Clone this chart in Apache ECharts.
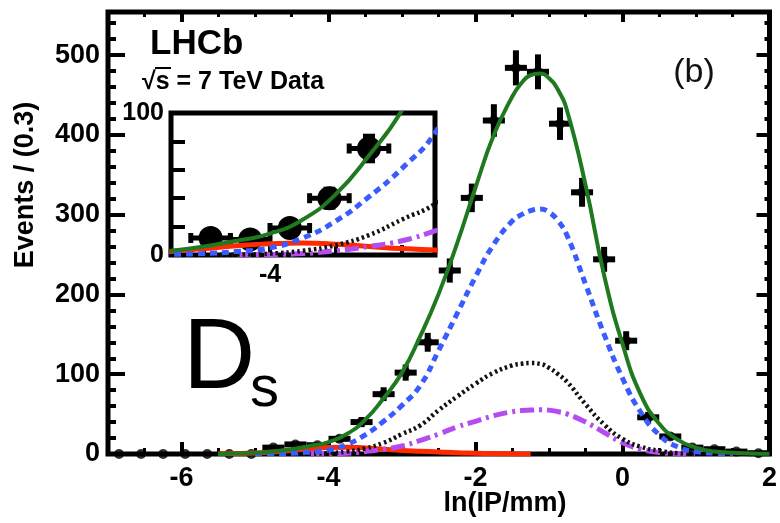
<!DOCTYPE html>
<html>
<head>
<meta charset="utf-8">
<script src="https://cdn.jsdelivr.net/npm/echarts@6/dist/echarts.min.js"></script>
<style>html,body{margin:0;padding:0;background:#fff}#chart{width:780px;height:523px}</style>
</head>
<body>
<div id="chart"></div>
<script>
// ---- data ----
const binCenters = [-6.85,-6.55,-6.25,-5.95,-5.65,-5.35,-5.05,-4.75,-4.45,-4.15,-3.85,-3.55,-3.25,-2.95,-2.65,-2.35,-2.05,-1.75,-1.45,-1.15,-0.85,-0.55,-0.25,0.05,0.35,0.65,0.95,1.25,1.55,1.85];
const eventCounts = [0,0,0,0,0,0,0,8,12,11,19,40,75,102,140,230,321,418,484,479,414,328,244,142,46,22,8,6,3,1];

const curveX      = [-5.5,-5.25,-5,-4.75,-4.5,-4.25,-4,-3.75,-3.5,-3.25,-3,-2.75,-2.5,-2.25,-2,-1.75,-1.5,-1.375,-1.25,-1.125,-1,-0.875,-0.75,-0.5,-0.25,0,0.25,0.5,0.75,1,1.25,1.5,1.75,2];
const totalFit    = [0,0.5,1.5,3,6,10,15,25,43,70,102,148,201,264,334,400,448,465,475,477,471,456,429,336,224,138,74,38,18,8,3,1.5,0.5,0.2];
const promptFit   = [null,null,0,0.5,1,2.5,5,12,24,41,61,86,130,176,222,263,292,300,305,307,303,292,273,212,150,95,52,24,9,3,1,0,null,null];
const dottedFit   = [null,null,null,null,0,0.3,1,3,7,14,25,36,55,72,88,102,111,113,114,113,108,100,90,62,37,19,9,4,1,0,null,null,null,null];
const dashDotFit  = [null,null,null,null,null,0,0.3,1,3,6,10,17,25,34,41,48,53,54.5,55,55.5,55,53,50,40,27,14,6,2,0.5,0,null,null,null,null];
const redFit      = [0.2,0.5,1.2,2.5,4.5,6.5,8,8.5,7.5,6,4.5,3.5,2.5,1.5,1,0.5,0.2,0.1,0,null,null,null,null,null,null,null,null,null,null,null,null,null,null,null];

const xMajorTicks = [-6,-4,-2,0,2];
const yLabelValues = [0,100,200,300,400,500];
const insetXMajor = [-4];
const insetXMinor = [-4.5,-3.5,-3];
const insetYLabels = [0,100];

// ---- ranges ----
const X_MIN = -7, X_MAX = 2, Y_MAX = 554;
const IN_XMIN = -4.75, IN_XMAX = -2.75, IN_YMAX = 100;
const HALF_BIN = 0.15;

const FONT = 'Liberation Sans, Arial, Helvetica, sans-serif';
const BLACK = '#000';

function pairs(xs, ys) {
  const out = [];
  for (let i = 0; i < xs.length; i++) if (ys[i] !== null) out.push([xs[i], ys[i]]);
  return out;
}
const points = binCenters.map((x, i) => [x, eventCounts[i]]);

function mainErr(params, api) {
  const x = api.value(0), y = api.value(1);
  if (!(y > 0)) return null;
  const e = Math.sqrt(y);
  const l = api.coord([x - HALF_BIN, y]), r = api.coord([x + HALF_BIN, y]);
  const t = api.coord([x, y + e]), b = api.coord([x, y - e]);
  const st = {stroke: BLACK, lineWidth: 6};
  return {type: 'group', children: [
    {type: 'line', shape: {x1: l[0], y1: l[1], x2: r[0], y2: r[1]}, style: st},
    {type: 'line', shape: {x1: t[0], y1: t[1], x2: b[0], y2: b[1]}, style: st}
  ]};
}
function insetPoint(params, api) {
  const x = api.value(0), y = api.value(1);
  if (!(x > IN_XMIN && x < IN_XMAX && y >= 0 && y <= IN_YMAX)) return null;
  const e = Math.sqrt(y);
  const c = api.coord([x, y]);
  const l = api.coord([x - HALF_BIN, y]), r = api.coord([x + HALF_BIN, y]);
  const t = api.coord([x, y + e]), b = api.coord([x, y - e]);
  const st = {stroke: BLACK, lineWidth: 5};
  return {type: 'group', children: [
    {type: 'line', shape: {x1: l[0], y1: l[1], x2: r[0], y2: r[1]}, style: st},
    {type: 'line', shape: {x1: t[0], y1: t[1], x2: b[0], y2: b[1]}, style: st},
    {type: 'line', shape: {x1: l[0], y1: l[1] - 5, x2: l[0], y2: l[1] + 5}, style: st},
    {type: 'line', shape: {x1: r[0], y1: r[1] - 5, x2: r[0], y2: r[1] + 5}, style: st},
    {type: 'line', shape: {x1: t[0] - 6, y1: t[1], x2: t[0] + 6, y2: t[1]}, style: st},
    {type: 'line', shape: {x1: b[0] - 6, y1: b[1], x2: b[0] + 6, y2: b[1]}, style: st},
    {type: 'circle', shape: {cx: c[0], cy: c[1], r: 12}, style: {fill: BLACK}}
  ]};
}

const curveDefs = [
  {name: 'red',     data: redFit,     color: '#ff2a00', width: 5, type: 'solid'},
  {name: 'dashdot', data: dashDotFit, color: '#b44cf0', width: 5, type: [14, 5, 3, 5]},
  {name: 'dotted',  data: dottedFit,  color: '#111111', width: 4.5, type: [2.5, 3]},
  {name: 'prompt',  data: promptFit,  color: '#3a5cff', width: 5, type: [7, 5]},
  {name: 'total',   data: totalFit,   color: '#1f7a1f', width: 4, type: 'solid'}
];
function curveSeries(def, xi, yi, z) {
  return {
    type: 'line', xAxisIndex: xi, yAxisIndex: yi, z: z,
    data: pairs(curveX, def.data), showSymbol: false, smooth: 0.5,
    lineStyle: {color: def.color, width: def.width, type: def.type, cap: 'butt', join: 'round'},
    silent: true, clip: true
  };
}

const noLine = {show: false, onZero: false};
const noSplit = {show: false};
function tick(len, w, extra) { return Object.assign({inside: true, length: len, lineStyle: {color: BLACK, width: w}}, extra || {}); }
const labelStyle = (size) => ({fontFamily: FONT, fontWeight: 'bold', fontSize: size, color: BLACK});

const option = {
  animation: false,
  backgroundColor: '#fff',
  grid: [
    {left: 108, right: 10, top: 12, bottom: 69, show: true, borderColor: BLACK, borderWidth: 5, backgroundColor: 'rgba(0,0,0,0)'},
    {left: 171, top: 113, width: 264, height: 142, show: true, borderColor: BLACK, borderWidth: 5, backgroundColor: '#fff'}
  ],
  xAxis: [
    {type: 'value', gridIndex: 0, position: 'bottom', min: X_MIN, max: X_MAX, axisLine: noLine, splitLine: noSplit,
     axisTick: tick(12, 4, {customValues: xMajorTicks}),
     axisLabel: Object.assign({customValues: xMajorTicks, margin: 11}, labelStyle(27))},
    {type: 'value', gridIndex: 0, position: 'bottom', min: X_MIN, max: X_MAX, interval: 0.5, axisLine: noLine, splitLine: noSplit,
     axisTick: tick(6, 3), axisLabel: {show: false}},
    {type: 'value', gridIndex: 0, position: 'top', min: X_MIN, max: X_MAX, axisLine: noLine, splitLine: noSplit,
     axisTick: tick(10, 4, {customValues: xMajorTicks}), axisLabel: {show: false}},
    {type: 'value', gridIndex: 0, position: 'top', min: X_MIN, max: X_MAX, interval: 0.5, axisLine: noLine, splitLine: noSplit,
     axisTick: tick(5, 3), axisLabel: {show: false}},
    {type: 'value', gridIndex: 1, position: 'bottom', min: IN_XMIN, max: IN_XMAX, axisLine: noLine, splitLine: noSplit,
     axisTick: tick(16, 4, {customValues: insetXMajor}),
     axisLabel: Object.assign({customValues: insetXMajor, margin: 8}, labelStyle(25))},
    {type: 'value', gridIndex: 1, position: 'bottom', min: IN_XMIN, max: IN_XMAX, axisLine: noLine, splitLine: noSplit,
     axisTick: tick(10, 4, {customValues: insetXMinor}), axisLabel: {show: false}}
  ],
  yAxis: [
    {type: 'value', gridIndex: 0, position: 'left', min: 0, max: Y_MAX, interval: 100, axisLine: noLine, splitLine: noSplit,
     axisTick: tick(17, 4), axisLabel: Object.assign({customValues: yLabelValues, margin: 8}, labelStyle(27))},
    {type: 'value', gridIndex: 0, position: 'left', min: 0, max: Y_MAX, interval: 20, axisLine: noLine, splitLine: noSplit,
     axisTick: tick(8, 4), axisLabel: {show: false}},
    {type: 'value', gridIndex: 0, position: 'right', min: 0, max: Y_MAX, interval: 100, axisLine: noLine, splitLine: noSplit,
     axisTick: tick(13, 4), axisLabel: {show: false}},
    {type: 'value', gridIndex: 0, position: 'right', min: 0, max: Y_MAX, interval: 20, axisLine: noLine, splitLine: noSplit,
     axisTick: tick(5, 4), axisLabel: {show: false}},
    {type: 'value', gridIndex: 1, position: 'left', min: 0, max: IN_YMAX, interval: 20, axisLine: noLine, splitLine: noSplit,
     axisTick: tick(14, 4), axisLabel: Object.assign({customValues: insetYLabels, margin: 7}, labelStyle(25))}
  ],
  series: [
    {type: 'custom', xAxisIndex: 0, yAxisIndex: 0, z: 3, data: points, renderItem: mainErr, silent: true},
    {type: 'scatter', xAxisIndex: 0, yAxisIndex: 0, z: 3, data: points, symbol: 'circle', symbolSize: 10,
     itemStyle: {color: BLACK}, silent: true},
    ...curveDefs.map(d => curveSeries(d, 0, 0, 4)),
    ...curveDefs.map(d => curveSeries(d, 4, 4, 6)),
    {type: 'custom', xAxisIndex: 4, yAxisIndex: 4, z: 5, data: points, renderItem: insetPoint, clip: true, silent: true}
  ],
  graphic: [
    {type: 'text', x: 150, y: 44, z: 10, style: {text: 'LHCb', font: 'bold 35px ' + FONT, fill: BLACK, verticalAlign: 'middle'}},
    {type: 'text', x: 142, y: 82, z: 10, style: {text: '\u221As = 7 TeV Data', font: 'bold 25px ' + FONT, fill: BLACK, verticalAlign: 'middle'}},
    {type: 'line', z: 10, shape: {x1: 155, y1: 68, x2: 171, y2: 68}, style: {stroke: BLACK, lineWidth: 2}},
    {type: 'text', x: 694, y: 73, z: 10, style: {text: '(b)', font: '34px ' + FONT, fill: '#111', align: 'center', verticalAlign: 'middle'}},
    {type: 'text', x: 183, y: 360, z: 10, style: {text: 'D', font: '100px ' + FONT, fill: BLACK, verticalAlign: 'middle'}},
    {type: 'text', x: 250, y: 390, z: 10, style: {text: 's', font: '58px ' + FONT, fill: BLACK, verticalAlign: 'middle'}},
    {type: 'text', x: 505, y: 504, z: 10, style: {text: 'ln(IP/mm)', font: 'bold 27px ' + FONT, fill: BLACK, align: 'center', verticalAlign: 'middle'}},
    {type: 'text', x: 26, y: 185, z: 10, rotation: Math.PI / 2, style: {text: 'Events / (0.3)', font: 'bold 27px ' + FONT, fill: BLACK, align: 'center', verticalAlign: 'middle'}}
  ]
};

const chart = echarts.init(document.getElementById('chart'), null, {renderer: 'canvas'});
chart.setOption(option);
</script>
</body>
</html>
